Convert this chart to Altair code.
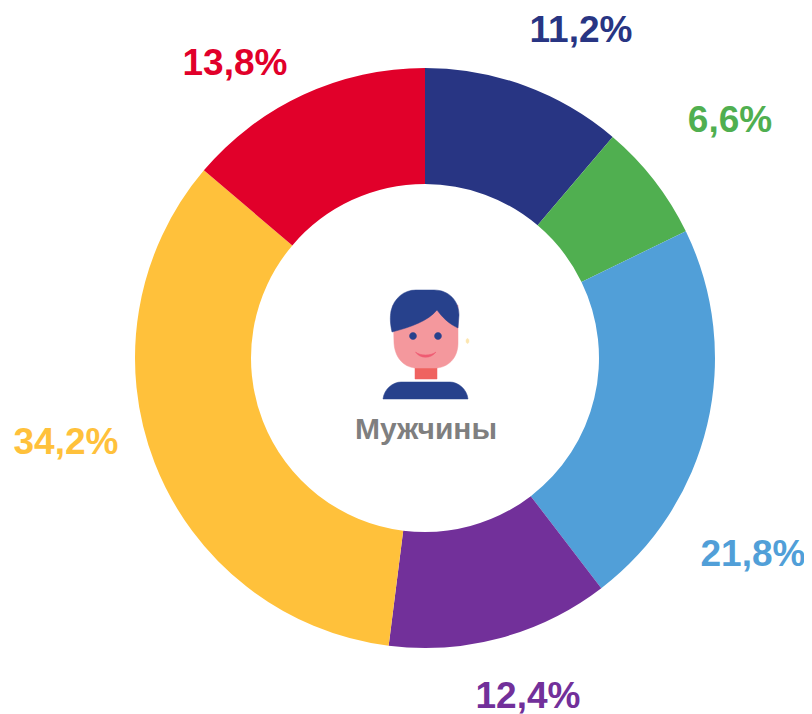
import altair as alt
import pandas as pd

values = [11.2, 6.6, 21.8, 12.4, 34.2, 13.8]
labels = ["11,2%", "6,6%", "21,8%", "12,4%", "34,2%", "13,8%"]
colors = ["#283583", "#50AF50", "#519FD8", "#72309A", "#FFC13B", "#E1002A"]
center_title = "Мужчины"

W, H = 796, 706
CX, CY = 417, 350
label_pos = [(573, 23), (722, 113), (745, 547), (520, 689), (58, 435), (227, 56)]

df = pd.DataFrame({"label": labels, "value": values, "order": range(len(values))})

arc = alt.Chart(df).mark_arc(outerRadius=290, innerRadius=174).encode(
    theta=alt.Theta("value:Q", stack=True),
    order=alt.Order("order:Q"),
    color=alt.Color("label:N", scale=alt.Scale(domain=labels, range=colors), legend=None),
    x=alt.value(CX),
    y=alt.value(CY),
)

layers = [arc]
for lab, col, (lx, ly) in zip(labels, colors, label_pos):
    layers.append(
        alt.Chart(pd.DataFrame({"t": [lab]})).mark_text(
            font="Liberation Sans", fontWeight="bold", fontSize=37, color=col,
            align="center", baseline="middle",
        ).encode(text="t:N", x=alt.value(lx), y=alt.value(ly))
    )

layers.append(
    alt.Chart(pd.DataFrame({"t": [center_title]})).mark_text(
        font="Liberation Sans", fontWeight="bold", fontSize=30, color="#7F7F7F",
        align="center", baseline="middle",
    ).encode(text="t:N", x=alt.value(418), y=alt.value(422))
)

NAVY = "#27418C"
icon_shapes = [
    ("M-10 20 L12 20 L12 34 L-10 34 Z", "#EF6360"),
    ("M-32 -40 L33 -40 L33 -2 C33 14 22 23 10 23 L-8 23 C-20 23 -30 14 -31 -2 Z", "#F4989D"),
    ("M-33 -13 C-35 -22 -35 -28 -34 -34 C-31 -47 -21 -55 -9 -55 L9 -55 C24 -55 34 -44 34 -30 L33 -17 C24 -21 17 -28 12 -35 C3 -24 -14 -18 -33 -13 Z", NAVY),
    ("M-42 54 C-41 44 -32 37 -24 37 L25 37 C33 37 42 44 43 54 Z", NAVY),
    ("M-15.5 -9 A3.5 3.5 0 1 1 -8.5 -9 A3.5 3.5 0 1 1 -15.5 -9 Z", NAVY),
    ("M9.5 -9 A3.5 3.5 0 1 1 16.5 -9 A3.5 3.5 0 1 1 9.5 -9 Z", NAVY),
    ("M-9.5 7 C-5 14 6 14 11 7 C6 11 -5 11 -9.5 7 Z", "#EF5B72"),
    ("M41 -4 A1.5 2.5 0 1 1 44 -4 A1.5 2.5 0 1 1 41 -4 Z", "#FCE6B0"),
]
for path, col in icon_shapes:
    layers.append(
        alt.Chart(pd.DataFrame({"a": [0]})).mark_point(
            shape=path, filled=True, size=4, color=col, opacity=1, strokeWidth=0.5, stroke=col,
        ).encode(x=alt.value(417), y=alt.value(337))
    )

chart = alt.layer(*layers).properties(
    width=W, height=H, padding=0, autosize=alt.AutoSizeParams(type="none"),
    background="white",
).configure_view(stroke=None)

chart.save("out.html", embed_options={"renderer": "svg", "actions": False})
